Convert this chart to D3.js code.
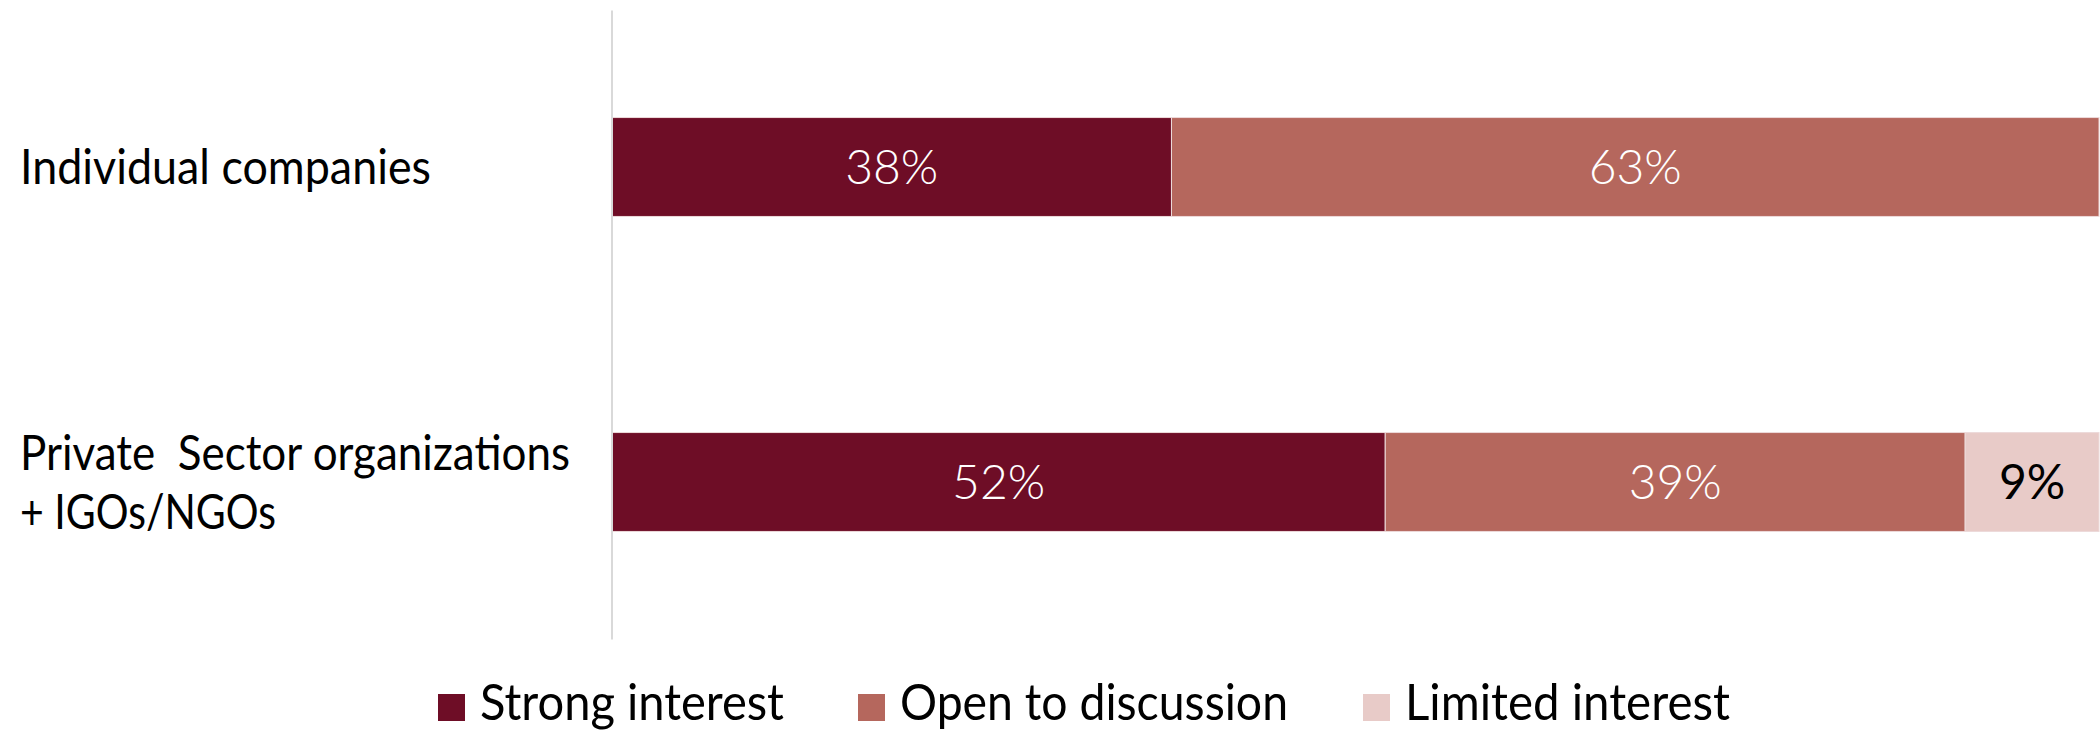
<!DOCTYPE html>
<html>
<head>
<meta charset="utf-8">
<script src="https://cdn.jsdelivr.net/npm/d3@7/dist/d3.min.js"></script>
<style>
  html, body { margin: 0; padding: 0; background: #fff; }
  svg { display: block; }
  text { font-family: Lato, "Open Sans", sans-serif; white-space: pre; }
</style>
</head>
<body>
<svg id="chart" width="2100" height="731"></svg>
<script>
// ---- data ----
const categories = ["Individual companies", "Private  Sector organizations\n+ IGOs/NGOs"];
const seriesNames = ["Strong interest", "Open to discussion", "Limited interest"];
const strongInterest = [38, 52];
const openToDiscussion = [63, 39];
const limitedInterest = [0, 9];
const seriesColors = ["#6E0D26", "#B5675D", "#E8CBC8"];
const labelColors = ["#ffffff", "#ffffff", "#000000"];

// ---- layout ----
const plotLeft = 612, plotRight = 2099, plotTop = 9.5, plotBottom = 639.5;
const fontSize = 48;
// rendered widths of the narrow reference face, used to condense the substitute font
const fitWidth = {
  "Individual companies": 411,
  "Private  Sector organizations": 550,
  "+ IGOs/NGOs": 256,
  "Strong interest": 304,
  "Open to discussion": 388,
  "Limited interest": 325
};

const svg = d3.select("#chart");

const rows = categories.map((c, i) => ({
  cat: c,
  vals: [strongInterest[i], openToDiscussion[i], limitedInterest[i]]
}));
rows.forEach(r => {
  const tot = d3.sum(r.vals);
  let acc = 0;
  r.segs = r.vals.map((v, k) => {
    const s = { k, v, x0: acc / tot * 100, x1: (acc + v) / tot * 100 };
    acc += v;
    return s;
  });
});

const x = d3.scaleLinear().domain([0, 100]).range([plotLeft, plotRight]);
const y = d3.scaleBand().domain(categories).range([plotTop, plotBottom])
  .paddingInner(0.686).paddingOuter(0.343);

function fit(sel, str) {
  if (fitWidth[str]) sel.attr("textLength", fitWidth[str]).attr("lengthAdjust", "spacingAndGlyphs");
  return sel;
}

// bars
const g = svg.append("g");
rows.forEach(r => {
  const segs = r.segs.filter(s => s.v > 0);
  g.selectAll(null).data(segs).enter().append("rect")
    .attr("x", s => x(s.x0))
    .attr("y", y(r.cat))
    .attr("width", s => x(s.x1) - x(s.x0))
    .attr("height", y.bandwidth())
    .attr("fill", s => seriesColors[s.k])
    .attr("stroke", "#eddada")
    .attr("stroke-width", 1);
  g.selectAll(null).data(segs).enter().append("text")
    .attr("x", s => (x(s.x0) + x(s.x1)) / 2)
    .attr("y", y(r.cat) + y.bandwidth() / 2)
    .attr("dy", "0.36em")
    .attr("text-anchor", "middle")
    .attr("font-size", fontSize)
    .attr("font-weight", s => s.k === 2 ? 400 : 300)
    .attr("fill", s => labelColors[s.k])
    .text(s => s.v + "%");
});

// vertical axis line
svg.append("line")
  .attr("x1", plotLeft).attr("x2", plotLeft)
  .attr("y1", plotTop + 1).attr("y2", plotBottom)
  .attr("stroke", "#d9d9d9").attr("stroke-width", 2);

// category labels
categories.forEach(c => {
  const lines = c.split("\n");
  const cy = y(c) + y.bandwidth() / 2;
  const lh = 59;
  const t = svg.append("text")
    .attr("font-size", fontSize)
    .attr("fill", "#000");
  lines.forEach((ln, i) => {
    const ts = t.append("tspan")
      .attr("x", 20)
      .attr("y", cy + (i - (lines.length - 1) / 2) * lh)
      .attr("dy", "0.36em")
      .text(ln);
    fit(ts, ln);
  });
});

// legend
const legendX = [438, 858, 1363];
const legend = svg.append("g");
seriesNames.forEach((n, i) => {
  legend.append("rect")
    .attr("x", legendX[i]).attr("y", 694)
    .attr("width", 27).attr("height", 27)
    .attr("fill", seriesColors[i]);
  const t = legend.append("text")
    .attr("x", legendX[i] + 42).attr("y", 720)
    .attr("font-size", fontSize + 2)
    .attr("fill", "#000")
    .text(n);
  fit(t, n);
});
</script>
</body>
</html>
